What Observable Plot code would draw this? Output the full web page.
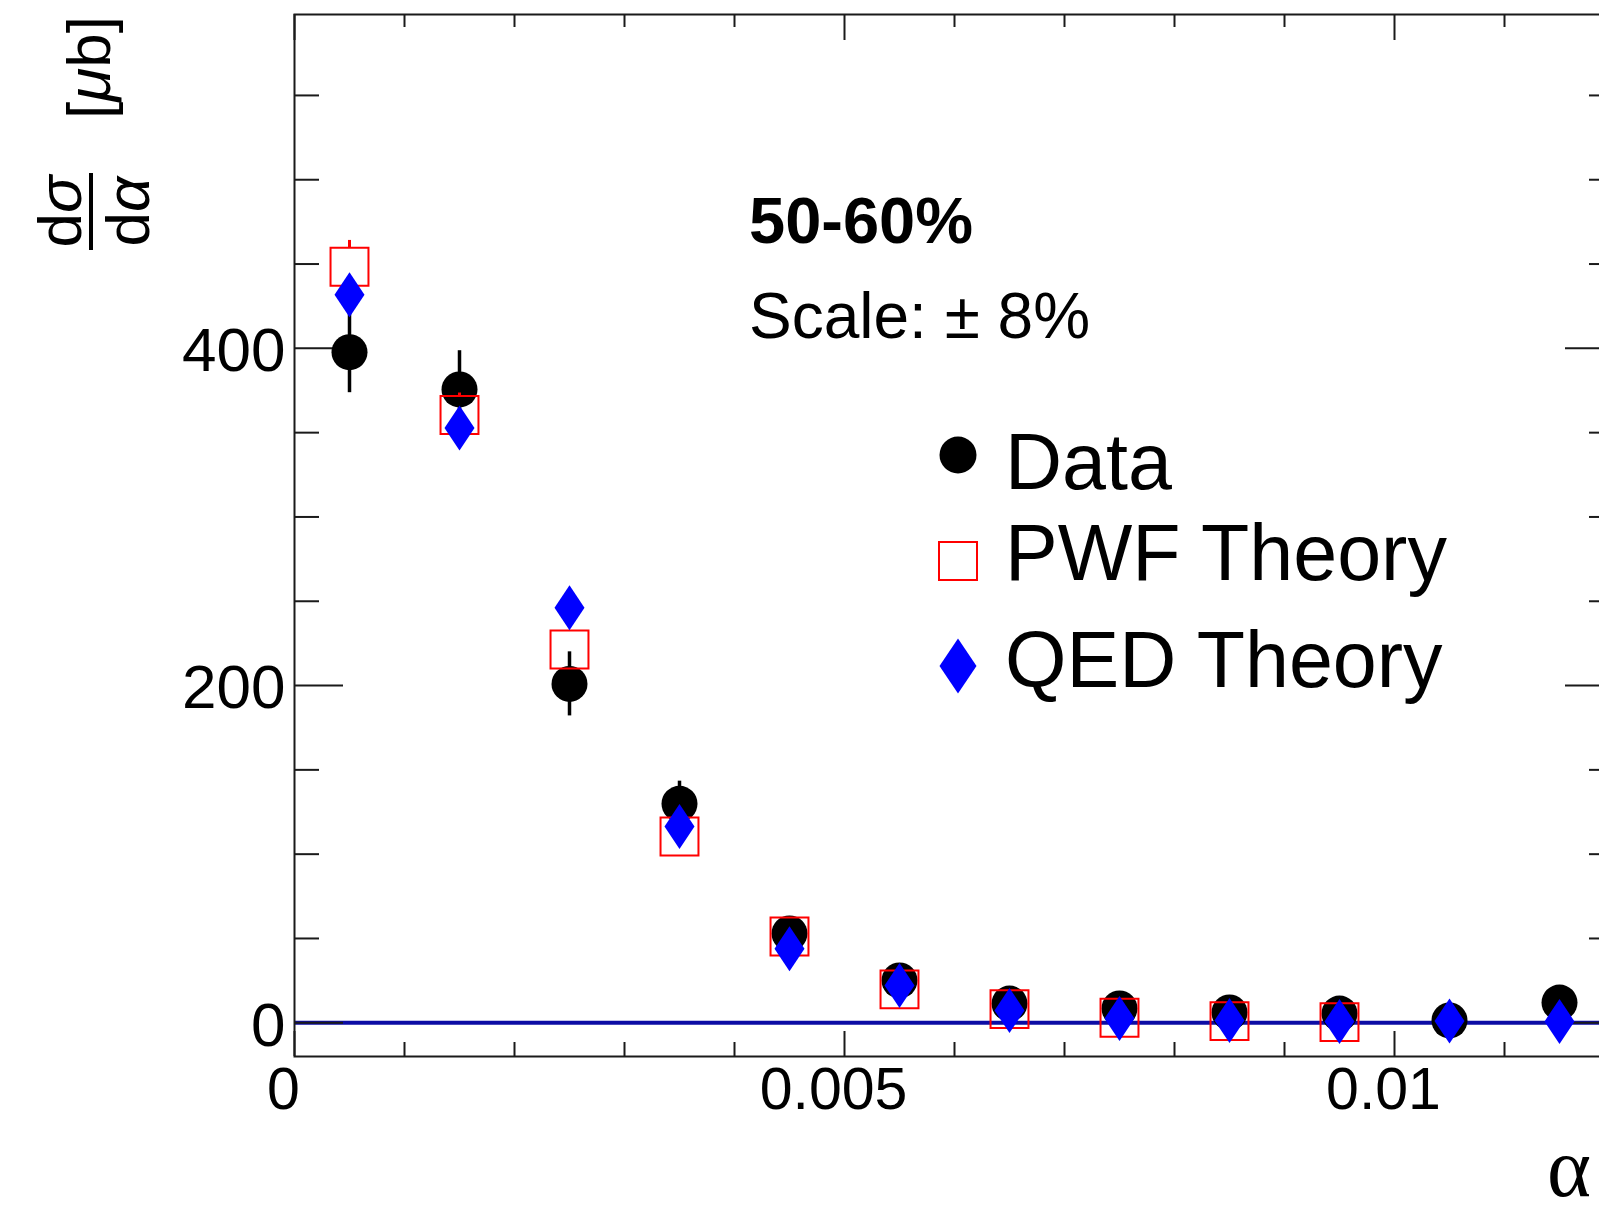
<!DOCTYPE html>
<html><head><meta charset="utf-8">
<script src="https://cdn.jsdelivr.net/npm/d3@7"></script>
<script src="https://cdn.jsdelivr.net/npm/@observablehq/plot@0.6"></script>
<style>
html,body{margin:0;padding:0;background:#fff;overflow:hidden;}
#wrap{position:relative;width:1624px;height:1208px;}
#wrap svg.ov{position:absolute;left:0;top:0;pointer-events:none;}
</style></head><body><div id="wrap"></div>
<script>
// ---- data ----
const alpha   = [0.0005, 0.0015, 0.0025, 0.0035, 0.0045, 0.0055, 0.0065, 0.0075, 0.0085, 0.0095, 0.0105, 0.0115];
const dataY   = [397.7, 375.6, 201.0, 129.9, 53.0, 25.1, 11.4, 8.5, 6.1, 5.5, 1.4, 12.0];
const dataErr = [24, 23, 19, 13.4, 8, 5, 3, 3, 2, 2, 2, 3];
const pwfY    = [448.4, 360.5, 221.4, 110.5, 51.2, 19.8, 8.1, 3.0, 1.0, 0.4, null, null];
const pwfErr  = [15.6, 13.0, 3, 2, 1, 1, 0.5, 0.5, 0.3, 0.3, null, null];
const qedY    = [431.8, 352.7, 246.1, 116.4, 43.9, 22.1, 7.3, 2.6, 1.4, 0.8, 1.0, 0.8];

const xTickValues = [0, 0.005, 0.01];
const xTickLabels = ["0", "0.005", "0.01"];
const xMinorTicks = [0.001, 0.002, 0.003, 0.004, 0.006, 0.007, 0.008, 0.009, 0.011];
const yTickValues = [0, 200, 400];
const yTickLabels = ["0", "200", "400"];
const yMinorTicks = [50, 100, 150, 250, 300, 350, 450, 500, 550];

const legendLabels = ["Data", "PWF Theory", "QED Theory"];
const centralityLabel = "50-60%";
const scaleLabel = "Scale: \u00b1 8%";

// ---- layout ----
const W = 1624, H = 1208;
const mL = 294, mT = 14, mR = 10, mB = 152;
const plotW = W - mL - mR, plotH = H - mT - mB;
const yDomain = [-20, 598];
const PPU = plotH / (yDomain[1] - yDomain[0]);
const sqHalf = 19;

const dataRows = alpha.map((x, i) => ({x, y: dataY[i], e: dataErr[i]}));
const pwfRows = alpha.map((x, i) => ({x, y: pwfY[i], e: pwfErr[i]})).filter(d => d.y != null);
const qedRows = alpha.map((x, i) => ({x, y: qedY[i]}));
const pwfBars = pwfRows.filter(d => d.e * PPU > sqHalf);

const diamond = {
  draw(ctx, size) {
    const r = Math.sqrt(size / Math.PI);
    const w = r * 0.833, h = r * 1.25;
    ctx.moveTo(0, -h); ctx.lineTo(w, 0); ctx.lineTo(0, h); ctx.lineTo(-w, 0); ctx.closePath();
  }
};

const axisColor = "#1a1a1a";
const chart = Plot.plot({
  width: W, height: H,
  marginLeft: mL, marginTop: mT, marginRight: mR, marginBottom: mB,
  x: {domain: [0, 0.012], label: null},
  y: {domain: yDomain, label: null},
  style: {fontFamily: "'Liberation Sans', Arial, sans-serif", color: "#000", background: "white", maxWidth: "none"},
  marks: [
    Plot.ruleY([0], {stroke: "#0c0ca4", strokeWidth: 4}),
    // ticks (inside the frame)
    Plot.tickX(xMinorTicks, {x: d => d, insetTop: plotH - 14, stroke: axisColor, strokeWidth: 2}),
    Plot.tickX(xTickValues, {x: d => d, insetTop: plotH - 25, stroke: axisColor, strokeWidth: 2}),
    Plot.tickX(xMinorTicks, {x: d => d, insetBottom: plotH - 13, stroke: axisColor, strokeWidth: 2}),
    Plot.tickX(xTickValues, {x: d => d, insetBottom: plotH - 26, stroke: axisColor, strokeWidth: 2}),
    Plot.tickY(yMinorTicks, {y: d => d, insetRight: plotW - 25, stroke: axisColor, strokeWidth: 2}),
    Plot.tickY(yTickValues, {y: d => d, insetRight: plotW - 49, stroke: axisColor, strokeWidth: 2}),
    Plot.tickY(yMinorTicks, {y: d => d, insetLeft: plotW - 25, stroke: axisColor, strokeWidth: 2}),
    Plot.tickY(yTickValues, {y: d => d, insetLeft: plotW - 49, stroke: axisColor, strokeWidth: 2}),
    // Data
    Plot.ruleX(dataRows, {x: "x", y1: d => d.y - d.e, y2: d => d.y + d.e, stroke: "black", strokeWidth: 3.5}),
    Plot.dot(dataRows, {x: "x", y: "y", r: 18, fill: "black", stroke: "none"}),
    // PWF
    Plot.ruleX(pwfBars, {x: "x", y1: d => d.y + d.e, y2: d => d.y, insetBottom: sqHalf, stroke: "red", strokeWidth: 3}),
    Plot.ruleX(pwfBars, {x: "x", y1: d => d.y, y2: d => d.y - d.e, insetTop: sqHalf, stroke: "red", strokeWidth: 3}),
    Plot.dot(pwfRows, {x: "x", y: "y", symbol: "square", r: 21.4, fill: "none", stroke: "#ff0000", strokeWidth: 2}),
    // QED
    Plot.dot(qedRows, {x: "x", y: "y", symbol: diamond, r: 18, fill: "#0000ff", stroke: "none"}),
    Plot.frame({stroke: axisColor, strokeWidth: 2}),
    Plot.axisX(xTickValues, {anchor: "bottom", label: null, tickSize: 0, tickPadding: 11, fontSize: 59, dx: -11,
      tickFormat: d => xTickLabels[xTickValues.indexOf(d)]}),
    Plot.axisY(yTickValues, {anchor: "left", label: null, tickSize: 0, tickPadding: 9, fontSize: 62, dy: 3,
      tickFormat: d => yTickLabels[yTickValues.indexOf(d)]})
  ]
});
document.getElementById("wrap").appendChild(chart);

// ---- annotations (texts, legend, axis titles) ----
const ov = d3.select("#wrap").append("svg").attr("class", "ov")
  .attr("width", W).attr("height", H)
  .style("font-family", "'Liberation Sans', Arial, sans-serif");

ov.append("text").attr("x", 749).attr("y", 243).attr("font-size", 65).attr("font-weight", "bold").text(centralityLabel);
ov.append("text").attr("x", 749).attr("y", 338).attr("font-size", 64).text(scaleLabel);

// legend
const legX = 958, legTextX = 1005;
const legRows = [{cy: 455, base: 489}, {cy: 561, base: 580}, {cy: 666, base: 687}];
ov.append("circle").attr("cx", legX).attr("cy", legRows[0].cy).attr("r", 18.5).attr("fill", "black");
ov.append("rect").attr("x", legX - 19).attr("y", legRows[1].cy - 19).attr("width", 38).attr("height", 38)
  .attr("fill", "none").attr("stroke", "#ff0000").attr("stroke-width", 2);
ov.append("path").attr("d", `M${legX},${legRows[2].cy - 27.5}L${legX + 18.5},${legRows[2].cy}L${legX},${legRows[2].cy + 27.5}L${legX - 18.5},${legRows[2].cy}Z`)
  .attr("fill", "#0000ff");
legendLabels.forEach((t, i) => {
  ov.append("text").attr("x", legTextX).attr("y", legRows[i].base).attr("font-size", 79).text(t);
});

// y title: d sigma / d alpha [mu b]
const yt = ov.append("g").attr("transform", "translate(91,211.5) rotate(-90)").attr("font-size", 62);
yt.append("line").attr("x1", -38.5).attr("x2", 38.5).attr("y1", 0).attr("y2", 0).attr("stroke", "black").attr("stroke-width", 4);
const num = yt.append("text").attr("x", 0).attr("y", -10).attr("text-anchor", "middle");
num.append("tspan").text("d");
num.append("tspan").attr("font-style", "italic").text("\u03c3");
const den = yt.append("text").attr("x", 0).attr("y", 58).attr("text-anchor", "middle");
den.append("tspan").text("d");
den.append("tspan").attr("font-style", "italic").text("\u03b1");
const unit = yt.append("text").attr("x", 144).attr("y", 19).attr("text-anchor", "middle");
unit.append("tspan").text("[");
unit.append("tspan").attr("font-style", "italic").text("\u03bc");
unit.append("tspan").text("b]");

// x title: alpha
ov.append("text").attr("x", 1591).attr("y", 1196).attr("text-anchor", "end")
  .attr("font-family", "'Liberation Serif', 'Times New Roman', serif").attr("font-size", 84).text("\u03b1");
</script>
</body></html>
